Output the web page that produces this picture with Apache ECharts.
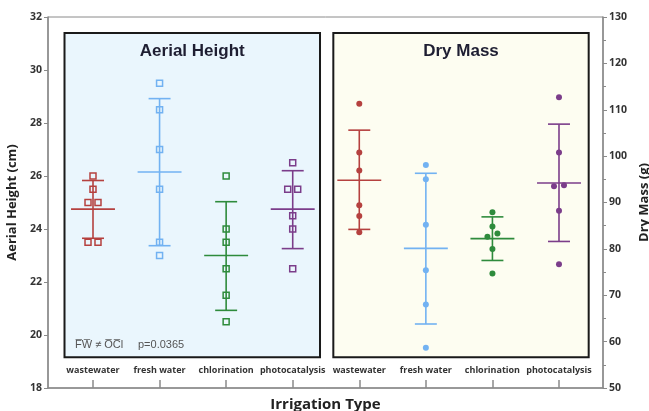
<!DOCTYPE html>
<html>
<head>
<meta charset="utf-8">
<script src="https://cdn.jsdelivr.net/npm/echarts@6/dist/echarts.min.js"></script>
<style>
  html, body { margin: 0; padding: 0; background: #fff; }
  #chart { width: 649px; height: 411px; }
</style>
</head>
<body>
<div id="chart"></div>
<script>
const categories = ['wastewater', 'fresh water', 'chlorination', 'photocatalysis'];
const groupColors = ['#b5413f', '#72b2f2', '#2e8b3c', '#7b3d8a'];

// Aerial Height (cm), left panel
const heightPoints = [
  [26, 25.5, 25, 25, 23.5, 23.5],
  [29.5, 28.5, 27, 25.5, 23.5, 23],
  [26, 24, 23.5, 22.5, 21.5, 20.5],
  [26.5, 25.5, 25.5, 24.5, 24, 22.5]
];
const heightMean = [24.75, 26.15, 23.0, 24.75];
const heightLow = [23.65, 23.37, 20.93, 23.26];
const heightHigh = [25.83, 28.92, 25.03, 26.2];

// Dry Mass (g), right panel
const massPoints = [
  [111.3, 100.8, 96.9, 89.4, 87.1, 83.6],
  [98.1, 95.0, 85.2, 75.4, 68.0, 58.7],
  [87.9, 84.8, 83.3, 82.6, 80.0, 74.7],
  [112.7, 100.8, 93.7, 93.5, 88.2, 76.7]
];
const massMean = [94.8, 80.1, 82.2, 94.2];
const massLow = [84.2, 63.8, 77.5, 81.6];
const massHigh = [105.6, 96.3, 86.9, 106.9];

const tickLabels = categories.concat(categories);

// spread points that would overlap side by side
function jitter(values, center, thr) {
  const sorted = values.slice().sort((a, b) => a - b);
  const out = [];
  let i = 0;
  while (i < sorted.length) {
    let j = i;
    while (j + 1 < sorted.length && sorted[j + 1] - sorted[i] < thr) j++;
    const n = j - i + 1;
    for (let k = 0; k < n; k++) {
      out.push([center + (k - (n - 1) / 2) * 0.15, sorted[i + k]]);
    }
    i = j + 1;
  }
  return out;
}

function errorBar(color, yAxisIndex, data) {
  return {
    type: 'custom',
    yAxisIndex: yAxisIndex,
    z: 3,
    silent: true,
    data: data,
    renderItem: function (params, api) {
      const x = api.value(0);
      const pm = api.coord([x, api.value(1)]);
      const pl = api.coord([x, api.value(2)]);
      const ph = api.coord([x, api.value(3)]);
      const cap = api.size([0.165, 0])[0];
      const half = api.size([0.33, 0])[0];
      const st = { stroke: color, lineWidth: 1.6 };
      return {
        type: 'group',
        children: [
          { type: 'line', shape: { x1: pl[0], y1: pl[1], x2: ph[0], y2: ph[1] }, style: st },
          { type: 'line', shape: { x1: ph[0] - cap, y1: ph[1], x2: ph[0] + cap, y2: ph[1] }, style: st },
          { type: 'line', shape: { x1: pl[0] - cap, y1: pl[1], x2: pl[0] + cap, y2: pl[1] }, style: st },
          { type: 'line', shape: { x1: pm[0] - half, y1: pm[1], x2: pm[0] + half, y2: pm[1] }, style: st }
        ]
      };
    }
  };
}

const series = [];

// panel backgrounds
series.push({
  type: 'scatter',
  data: [],
  z: 1,
  silent: true,
  markArea: {
    silent: true,
    label: {
      show: true,
      position: 'insideTop',
      distance: 11,
      fontFamily: 'Liberation Sans',
      fontSize: 17,
      fontWeight: 'bold',
      color: '#1e1e32'
    },
    data: [
      [
        { name: 'Aerial Height', coord: [0.572, 31.4], itemStyle: { color: '#eaf6fd', borderColor: '#1a1a1a', borderWidth: 2 } },
        { coord: [4.41, 19.16] }
      ],
      [
        { name: 'Dry Mass', coord: [4.61, 31.4], itemStyle: { color: '#fdfdf1', borderColor: '#1a1a1a', borderWidth: 2 } },
        { coord: [8.446, 19.16] }
      ]
    ]
  }
});

categories.forEach(function (c, i) {
  series.push(errorBar(groupColors[i], 0, [[i + 1, heightMean[i], heightLow[i], heightHigh[i]]]));
  series.push({
    type: 'scatter',
    yAxisIndex: 0,
    z: 4,
    symbol: 'rect',
    symbolSize: 6,
    itemStyle: { color: 'rgba(0,0,0,0)', borderColor: groupColors[i], borderWidth: 1.5, opacity: 1 },
    data: jitter(heightPoints[i], i + 1, 0.2)
  });
  series.push(errorBar(groupColors[i], 1, [[i + 5, massMean[i], massLow[i], massHigh[i]]]));
  series.push({
    type: 'scatter',
    yAxisIndex: 1,
    z: 4,
    symbol: 'circle',
    symbolSize: 6,
    itemStyle: { color: groupColors[i], opacity: 1 },
    data: jitter(massPoints[i], i + 5, 1.1)
  });
});

const axisFont = { fontFamily: 'Open Sans', fontWeight: 'bold', color: '#333' };

const chart = echarts.init(document.getElementById('chart'));
chart.setOption({
  animation: false,
  grid: {
    left: 48, right: 46, top: 17, bottom: 23,
    outerBoundsMode: 'none',
    containLabel: false,
    show: true, borderColor: '#8a8a8a', borderWidth: 1, backgroundColor: 'transparent'
  },
  title: [
    {
      text: 'F\u0305W\u0305 \u2260 O\u0305C\u0305l',
      left: 70, top: 334,
      textStyle: { fontFamily: 'Liberation Sans', fontSize: 11, fontWeight: 'normal', color: '#555' }
    },
    {
      text: 'p=0.0365',
      left: 133, top: 334,
      textStyle: { fontFamily: 'Liberation Sans', fontSize: 11, fontWeight: 'normal', color: '#555' }
    }
  ],
  xAxis: {
    type: 'value',
    min: 0.324,
    max: 8.661,
    name: 'Irrigation Type',
    nameLocation: 'middle',
    nameGap: 9,
    nameTextStyle: { fontFamily: 'Open Sans', fontSize: 15, fontWeight: 'bold', color: '#222', verticalAlign: 'top' },
    axisLine: { lineStyle: { color: '#8a8a8a', width: 1.5 } },
    axisTick: { inside: true, length: 8, customValues: [1, 2, 3, 4, 5, 6, 7, 8], lineStyle: { color: '#8a8a8a', width: 1.5 } },
    axisLabel: Object.assign({
      inside: true,
      margin: 13,
      fontSize: 9,
      customValues: [1, 2, 3, 4, 5, 6, 7, 8],
      formatter: function (v) { return tickLabels[Math.round(v) - 1]; }
    }, axisFont),
    splitLine: { show: false }
  },
  yAxis: [
    {
      type: 'value',
      min: 18, max: 32, interval: 2,
      name: 'Aerial Height (cm)',
      nameLocation: 'middle',
      nameGap: 28,
      nameRotate: 90,
      nameTextStyle: { fontFamily: 'Open Sans', fontSize: 13, fontWeight: 'bold', color: '#222' },
      axisLine: { show: true, lineStyle: { color: '#8a8a8a', width: 1.5 } },
      axisTick: { show: true, length: 4, lineStyle: { color: '#8a8a8a' } },
      axisLabel: Object.assign({ fontSize: 10.5, margin: 6 }, axisFont),
      splitLine: { show: false }
    },
    {
      type: 'value',
      position: 'right',
      min: 50, max: 130, interval: 10,
      name: 'Dry Mass (g)',
      nameLocation: 'middle',
      nameGap: 31,
      nameRotate: 90,
      nameTextStyle: { fontFamily: 'Open Sans', fontSize: 13, fontWeight: 'bold', color: '#222' },
      axisLine: { show: true, lineStyle: { color: '#8a8a8a', width: 1.5 } },
      axisTick: { show: true, length: 4, lineStyle: { color: '#8a8a8a' } },
      minorTick: { show: true, splitNumber: 2, length: 3, lineStyle: { color: '#8a8a8a' } },
      axisLabel: Object.assign({ fontSize: 10.5, margin: 6 }, axisFont),
      splitLine: { show: false }
    }
  ],
  series: series
});
</script>
</body>
</html>
